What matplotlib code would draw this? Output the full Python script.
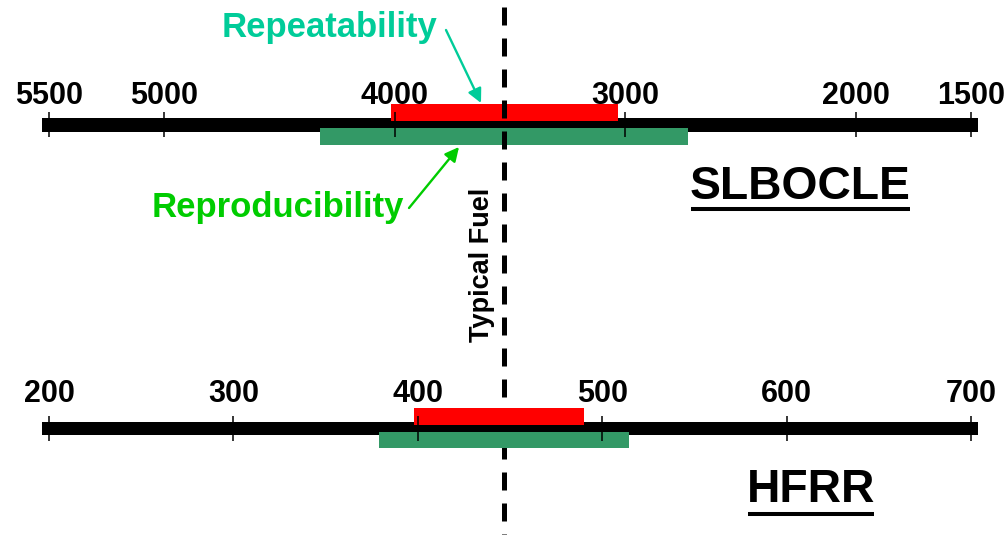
import matplotlib
matplotlib.use('Agg')
import matplotlib.pyplot as plt
from matplotlib.transforms import blended_transform_factory

# ---------------- data ----------------
slbocle_ticks = [5500, 5000, 4000, 3000, 2000, 1500]
slbocle_axis = [5530, 1470]
slbocle_repeatability = [4016, 3031]
slbocle_reproducibility = [4324, 2728]
slbocle_typical = 3524

hfrr_ticks = [200, 300, 400, 500, 600, 700]
hfrr_axis = [196, 704]
hfrr_repeatability = [398, 490]
hfrr_reproducibility = [379, 514.5]
hfrr_typical = 447

# ---------------- figure ----------------
W, H = 1005, 535
fig = plt.figure(figsize=(W / 100, H / 100), dpi=100)
FONT = 'Liberation Sans'
RED = '#FF0000'
GREEN_BAR = '#339966'
TEAL = '#00CC99'
LGREEN = '#00CC00'


def make_ax(xlim, label):
    ax = fig.add_axes([0, 0, 1, 1], label=label)
    ax.set_xlim(*xlim)
    ax.set_ylim(H, 0)
    ax.axis('off')
    ax.patch.set_alpha(0)
    return ax


overlay = make_ax((0, W), 'overlay')
ax_top = make_ax((5712.6, 1352.5), 'top')
ax_bot = make_ax((173.4, 718.4), 'bot')


def span(ax, rng, yc, h, color, z):
    lo, hi = min(rng), max(rng)
    ax.barh(yc, hi - lo, left=lo, height=h, color=color, zorder=z, linewidth=0)


def number_line(ax, axis_rng, rep, repro, ticks, y_axis, y_rep, y_repro,
                h_axis, h_rep, h_repro, tick_y, label_y):
    span(ax, axis_rng, y_axis, h_axis, 'black', 2)
    span(ax, rep, y_rep, h_rep, RED, 3)
    span(ax, repro, y_repro, h_repro, GREEN_BAR, 3)
    ax.vlines(ticks, tick_y[0], tick_y[1], color='black', lw=1.1, zorder=4)
    for t in ticks:
        ax.text(t, label_y, f'{t}', ha='center', va='baseline',
                fontsize=22, fontweight='bold', family=FONT, color='black')


number_line(ax_top, slbocle_axis, slbocle_repeatability, slbocle_reproducibility,
            slbocle_ticks, 125, 112.5, 136.5, 14, 17, 17, (112, 137), 104)
number_line(ax_bot, hfrr_axis, hfrr_repeatability, hfrr_reproducibility,
            hfrr_ticks, 428.5, 416.5, 440, 13, 17, 16, (416, 441), 402)

# typical fuel dashed line (x in SLBOCLE data, y in pixel overlay)
tr = blended_transform_factory(ax_top.transData, overlay.transData)
ax_top.plot([slbocle_typical, slbocle_typical], [7, 535], transform=tr,
            color='black', lw=3.6, linestyle=(0, (3.6, 2.6)), zorder=6,
            clip_on=False, solid_capstyle='butt', dash_capstyle='butt')

overlay.text(482, 265, 'Typical Fuel', rotation=90, ha='center', va='center',
             fontsize=19.5, fontweight='bold', family=FONT, color='black', zorder=7)

# annotations
overlay.text(222, 37, 'Repeatability', ha='left', va='baseline',
             fontsize=25, fontweight='bold', family=FONT, color=TEAL)
overlay.annotate('', xy=(481, 103), xytext=(446, 30),
                 arrowprops=dict(arrowstyle='-|>', color=TEAL, lw=1.7,
                                 mutation_scale=21, shrinkA=0, shrinkB=0))
overlay.text(152, 217, 'Reproducibility', ha='left', va='baseline',
             fontsize=25, fontweight='bold', family=FONT, color=LGREEN)
overlay.annotate('', xy=(459, 147), xytext=(409, 208),
                 arrowprops=dict(arrowstyle='-|>', color=LGREEN, lw=1.7,
                                 mutation_scale=21, shrinkA=0, shrinkB=0))

# titles with underline
t1 = overlay.text(690, 199, 'SLBOCLE', ha='left', va='baseline',
                  fontsize=33.3, fontweight='bold', family=FONT, color='black')
t2 = overlay.text(747, 502, 'HFRR', ha='left', va='baseline',
                  fontsize=33.3, fontweight='bold', family=FONT, color='black')

fig.canvas.draw()
inv = overlay.transData.inverted()
for t, uy in ((t1, 208.5), (t2, 513.5)):
    bb = t.get_window_extent()
    x0, _ = inv.transform((bb.x0, bb.y0))
    x1, _ = inv.transform((bb.x1, bb.y0))
    overlay.plot([x0 + 1, x1 - 1], [uy, uy], color='black', lw=2.9,
                 solid_capstyle='butt')

fig.savefig('out.png', dpi=100)
